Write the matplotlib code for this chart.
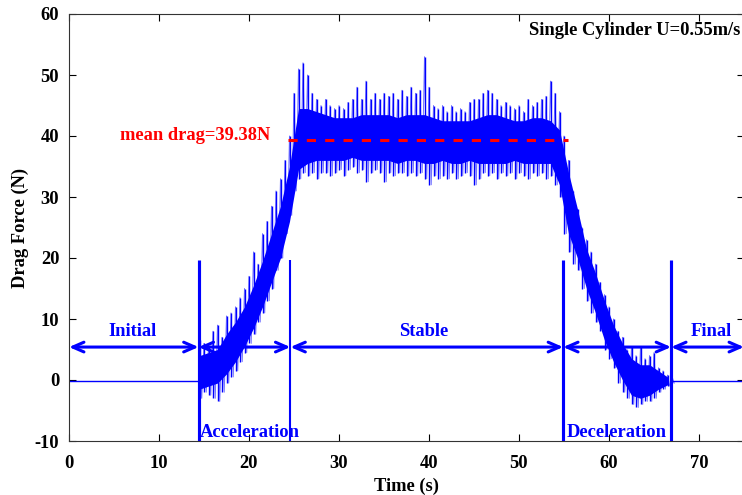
import matplotlib
matplotlib.use("Agg")
import matplotlib.pyplot as plt
import numpy as np

plt.rcParams['font.family'] = ['Liberation Serif', 'DejaVu Serif']
plt.rcParams['font.weight'] = 'bold'
plt.rcParams['axes.labelweight'] = 'bold'
plt.rcParams['axes.unicode_minus'] = False

# dense band of the drag signal (read every 1 s)
t_core = np.arange(14.5, 67.0, 1.0)
core_lo = [-1.5, -1, -0.5, 1, 3, 5.5, 8.5, 12, 16, 20, 26, 34.5, 35.5, 36, 36, 36, 36,
           36.5, 36, 36, 36, 36, 35.5, 36, 36, 35.5, 35.5, 36, 35.5, 35.5, 36, 35.5,
           35.5, 35.5, 35.5, 36, 35.5, 35.5, 35.5, 35.5, 32, 24, 20, 15, 11, 6.5, 3, 0,
           -2.5, -3, -2.5, -1.5, -0.8]
core_hi = [4, 4.5, 5, 7.5, 9.5, 12, 15.5, 19.5, 24, 28.5, 35, 44.5, 44.5, 44, 43.5, 43,
           43, 43, 43.5, 43.5, 43.5, 43.5, 43, 43.5, 43.5, 43.5, 43, 42.5, 42.5, 42.5,
           42.5, 43, 43.5, 43.5, 43, 42.5, 42.5, 43, 43, 42.5, 41, 34, 28, 21.5, 17.5,
           13, 9, 6, 3.5, 2.5, 2.5, 1.5, 0.5]

# spike extremes (read every 0.5 s)
t_spk = np.arange(14.5, 67.25, 0.5)
spk_hi = [6.5, 6, 5.5, 8, 9, 7, 10.5, 11, 12, 13.5, 15, 17, 21, 19, 24, 26, 28.5, 31,
          33, 36, 40, 47, 51, 52, 50, 47, 46, 45, 46, 45, 44.5, 45, 44.5, 45.5, 46, 48,
          46, 49, 46, 47, 46, 47, 46.5, 47, 46, 47.5, 46.5, 48, 47, 47.5, 53, 48, 45,
          44.5, 45, 44, 45, 44, 44.5, 44, 45.5, 46, 46, 47, 47.5, 47, 46, 45, 45.5, 45,
          44.5, 45, 44, 46, 45, 45.5, 46, 46.5, 49, 47, 44, 40, 36, 31, 28, 25, 23, 21,
          19, 16, 14, 12, 10, 8, 7, 5, 5.5, 4, 5.5, 3.5, 4, 4.5, 2, 1.5, 0.8, 0.3]
spk_lo = [-3, -2, -2.5, -3, -3.5, -2, -0.5, 0.5, 1.5, 3, 4.5, 6, 7.5, 9.5, 11, 13, 15,
          18, 20, 24, 27, 31, 33, 34, 33.5, 34, 33, 34, 34, 33.5, 34, 34.5, 33.5, 34.5,
          35, 34, 34.5, 32.5, 34, 34.5, 34, 32.5, 34, 33.5, 34, 34, 33.5, 34, 33.5, 34,
          33, 32, 33.5, 33, 33.5, 33, 34, 33, 33.5, 34, 33.5, 32, 33, 34, 33.5, 34, 33,
          34, 33.5, 34, 33, 34, 33.5, 33, 34, 33.5, 34, 33, 33.5, 32, 30, 24, 21, 19, 18,
          15, 13, 11, 9.5, 8, 5, 3.5, 2, -0.5, -2, -3, -4, -4.5, -4, -3.5, -3.5, -3, -2,
          -1.5, -1, -0.5]

# quiet parts before and after the run
t_initial = [0, 14.5]
f_initial = [-0.1, -0.1]
t_final = [67.0, 75]
f_final = [-0.1, -0.1]

# phase boundaries and labels
phase_bounds = [0, 14.4, 24.6, 54.9, 66.9, 75]
phase_names = ['Initial', 'Acceleration', 'Stable', 'Deceleration', 'Final']
mean_drag = 39.38

fig = plt.figure(figsize=(7.42, 4.95), dpi=100)
ax = fig.add_axes([69/742, 54/495, 675/742, 427/495])

blue = (0, 0, 1)
fs = 13.3
ax.plot(t_initial, f_initial, color=blue, lw=1)
ax.plot(t_final, f_final, color=blue, lw=1)
ax.fill_between(t_core, core_lo, core_hi, color=blue, lw=0)

# noisy trace: zig-zag between the read peaks and troughs
zz_t = np.ravel(np.column_stack([t_spk, t_spk + 0.25]))
zz_f = np.ravel(np.column_stack([spk_hi, spk_lo]))
ax.plot(zz_t, zz_f, color=blue, lw=0.7, alpha=0.55)
ax.vlines(t_spk, spk_lo, spk_hi, color=blue, lw=1.0)

# phase boundary lines
for xb, w in zip(phase_bounds[1:-1], [3, 2, 3, 3]):
    ax.vlines(xb, -10, 19.6, color=blue, lw=w * 0.75)

# double arrows
for i in range(len(phase_names)):
    ax.annotate('', xy=(phase_bounds[i], 5.4), xytext=(phase_bounds[i + 1], 5.4),
                arrowprops=dict(arrowstyle='<->,head_length=0.8,head_width=0.35',
                                color=blue, lw=2.2, shrinkA=0, shrinkB=0))

ax.text(7.1, 8.0, 'Initial', color=blue, fontsize=fs, ha='center', va='center')
ax.text(39.4, 8.0, 'Stable', color=blue, fontsize=fs, ha='center', va='center')
ax.text(71.4, 8.0, 'Final', color=blue, fontsize=fs, ha='center', va='center')
ax.text(20.1, -8.6, 'Acceleration', color=blue, fontsize=fs, ha='center', va='center')
ax.text(60.9, -8.6, 'Deceleration', color=blue, fontsize=fs, ha='center', va='center')

# mean drag
ax.plot([24.3, 55.4], [mean_drag, mean_drag], color='red', lw=2.2, ls=(0, (3, 3)))
ax.text(5.7, 40.0, 'mean drag=%.2fN' % mean_drag, color='red', fontsize=fs,
        ha='left', va='center')

fig.text(0.9975, 0.939, 'Single Cylinder U=0.55m/s', ha='right', va='center',
         fontsize=fs, color='black')

ax.set_xlim(0, 75)
ax.set_ylim(-10, 60)
ax.set_xticks(range(0, 80, 10))
ax.set_yticks(range(-10, 70, 10))
ax.tick_params(direction='in', top=True, right=True, length=5, width=0.8,
               labelsize=fs, colors='black', pad=7)
ax.tick_params(axis='x', pad=10)
for s in ax.spines.values():
    s.set_linewidth(0.8)
    s.set_color('#333333')

ax.set_xlabel('Time (s)', fontsize=fs, labelpad=4)
ax.set_ylabel('Drag Force (N)', fontsize=fs, labelpad=4)

fig.savefig('out.png', dpi=100)
